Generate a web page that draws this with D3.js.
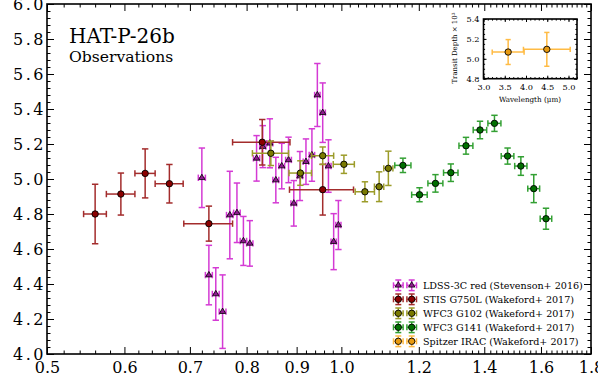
<!DOCTYPE html>
<html>
<head>
<meta charset="utf-8">
<script src="https://cdn.jsdelivr.net/npm/d3@7"></script>
<style>
body { margin: 0; background: #fff; }
svg text { font-family: "DejaVu Serif", serif; fill: #000; }
</style>
</head>
<body>
<svg width="598" height="373"></svg>
<script>
// LDSS-3C red (Stevenson+ 2016)
var ldssWave  = [0.720,0.732,0.744,0.756,0.769,0.782,0.794,0.806,0.819,0.831,0.845,0.857,0.869,0.883,0.894,0.907,0.920,0.933,0.945,0.957,0.970,0.982,0.993];
var ldssDepth = [5.007,4.451,4.343,4.242,4.794,4.807,4.646,4.632,5.118,5.185,5.204,4.994,5.074,5.109,4.861,5.017,5.099,5.137,5.480,5.379,5.074,4.642,4.737];
var ldssErr   = [0.17,0.17,0.15,0.21,0.25,0.17,0.14,0.13,0.13,0.12,0.14,0.13,0.13,0.13,0.13,0.14,0.13,0.15,0.18,0.17,0.15,0.16,0.14];
var ldssWErr  = [0.006,0.006,0.006,0.006,0.006,0.006,0.006,0.006,0.006,0.006,0.006,0.006,0.006,0.006,0.006,0.006,0.006,0.006,0.006,0.006,0.006,0.006,0.006];
// STIS G750L (Wakeford+ 2017)
var stisWave  = [0.560,0.595,0.630,0.667,0.732,0.830,0.957];
var stisDepth = [4.800,4.914,5.032,4.973,4.745,5.210,4.939];
var stisErr   = [0.17,0.12,0.14,0.11,0.10,0.13,0.145];
var stisWErr  = [0.015,0.020,0.015,0.022,0.042,0.056,0.072];
// WFC3 G102 (Wakeford+ 2017)
var g102Wave  = [0.847,0.908,0.957,1.006,1.057,1.093,1.117];
var g102Depth = [5.147,5.034,5.133,5.084,4.927,4.956,5.061];
var g102Err   = [0.07,0.07,0.05,0.052,0.057,0.085,0.098];
var g102WErr  = [0.036,0.024,0.025,0.025,0.024,0.012,0.012];
// WFC3 G141 (Wakeford+ 2017)
var g141Wave  = [1.156,1.202,1.248,1.294,1.341,1.386,1.434,1.479,1.526,1.573,1.619];
var g141Depth = [5.078,4.910,4.975,5.036,5.190,5.280,5.318,5.131,5.074,4.945,4.773];
var g141Err   = [0.041,0.040,0.050,0.050,0.048,0.050,0.046,0.046,0.053,0.080,0.060];
var g141WErr  = [0.022,0.022,0.022,0.022,0.022,0.022,0.022,0.022,0.022,0.022,0.022];
// Spitzer IRAC (Wakeford+ 2017), inset
var spitzerWave  = [3.58,4.49];
var spitzerDepth = [5.068,5.095];
var spitzerErr   = [0.125,0.17];
var spitzerWErr  = [0.375,0.55];

var xMajor = [0.5,0.6,0.7,0.8,0.9,1.0,1.2,1.4,1.6,1.8];
var yMajor = [4.0,4.2,4.4,4.6,4.8,5.0,5.2,5.4,5.6,5.8,6.0];
var insetXMajor = [3.0,3.5,4.0,4.5,5.0];
var insetYMajor = [4.8,5.0,5.2,5.4];

var series = [
  {name:"LDSS-3C red (Stevenson+ 2016)", w:ldssWave, d:ldssDepth, e:ldssErr, we:ldssWErr, bar:"#d43ad4", fill:"#8e1a8e", tri:true},
  {name:"STIS G750L (Wakeford+ 2017)", w:stisWave, d:stisDepth, e:stisErr, we:stisWErr, bar:"#a32c2c", fill:"#8b0000"},
  {name:"WFC3 G102 (Wakeford+ 2017)", w:g102Wave, d:g102Depth, e:g102Err, we:g102WErr, bar:"#9c9c2a", fill:"#7a7a00"},
  {name:"WFC3 G141 (Wakeford+ 2017)", w:g141Wave, d:g141Depth, e:g141Err, we:g141WErr, bar:"#33a033", fill:"#006f00"},
  {name:"Spitzer IRAC (Wakeford+ 2017)", w:spitzerWave, d:spitzerDepth, e:spitzerErr, we:spitzerWErr, bar:"#ffbb44", fill:"#e89a10", inset:true}
];

var svg = d3.select("svg");
var pLeft = 47, pRight = 591, pTop = 4, pBottom = 354;

var x = d3.scaleLog().domain([0.5,1.8]).range([pLeft,pRight]);
var y = d3.scaleLinear().domain([4.0,6.0]).range([pBottom,pTop]);

// minor ticks
var xMinor = d3.range(0.5, 1.801, 0.02).filter(function(v){
  return xMajor.every(function(m){ return Math.abs(m-v) > 1e-6; });
});
var yMinor = d3.range(4.0, 6.001, 0.04).filter(function(v){
  return yMajor.every(function(m){ return Math.abs(m-v) > 1e-6; });
});

function axes(g, xs, ys, xMaj, xMin, yMaj, yMin, big, small, padX, padY, x0, x1, y0, y1) {
  var fmt = d3.format(".1f");
  g.append("g").attr("class","xl").attr("transform","translate(0,"+y0+")")
   .call(d3.axisBottom(xs).tickValues(xMaj).tickSizeInner(-big).tickSizeOuter(0).tickPadding(padX).tickFormat(fmt));
  g.append("g").attr("transform","translate(0,"+y0+")")
   .call(d3.axisBottom(xs).tickValues(xMin).tickSizeInner(-small).tickSizeOuter(0).tickFormat(""));
  g.append("g").attr("transform","translate(0,"+y1+")")
   .call(d3.axisTop(xs).tickValues(xMaj).tickSizeInner(-big).tickSizeOuter(0).tickFormat(""));
  g.append("g").attr("transform","translate(0,"+y1+")")
   .call(d3.axisTop(xs).tickValues(xMin).tickSizeInner(-small).tickSizeOuter(0).tickFormat(""));
  g.append("g").attr("class","yl").attr("transform","translate("+x0+",0)")
   .call(d3.axisLeft(ys).tickValues(yMaj).tickSizeInner(-big).tickSizeOuter(0).tickPadding(padY).tickFormat(fmt));
  g.append("g").attr("transform","translate("+x0+",0)")
   .call(d3.axisLeft(ys).tickValues(yMin).tickSizeInner(-small).tickSizeOuter(0).tickFormat(""));
  g.append("g").attr("transform","translate("+x1+",0)")
   .call(d3.axisRight(ys).tickValues(yMaj).tickSizeInner(-big).tickSizeOuter(0).tickFormat(""));
  g.append("g").attr("transform","translate("+x1+",0)")
   .call(d3.axisRight(ys).tickValues(yMin).tickSizeInner(-small).tickSizeOuter(0).tickFormat(""));
  g.selectAll(".domain").remove();
  g.selectAll(".tick line").attr("stroke","#000").attr("stroke-width",1);
  g.append("rect").attr("x",x0).attr("y",y1).attr("width",x1-x0).attr("height",y0-y1)
   .attr("fill","none").attr("stroke","#000").attr("stroke-width",1.6);
}

var frame = svg.append("g");
axes(frame, x, y, xMajor, xMinor, yMajor, yMinor, 7, 3.5, 8, 1, pLeft, pRight, pBottom, pTop);
frame.selectAll("text").attr("font-size","16px").attr("font-family","DejaVu Serif");
frame.selectAll(".yl text").attr("letter-spacing","2.5px");

// error bars + markers
function drawSeries(g, s, xs, ys, cap) {
  var pts = g.selectAll(null).data(s.w.map(function(w,i){ return {w:w, d:s.d[i], e:s.e[i], we:s.we[i]}; }))
    .enter().append("g");
  var c = s.bar;
  pts.append("line").attr("x1",function(p){return xs(p.w);}).attr("x2",function(p){return xs(p.w);})
    .attr("y1",function(p){return ys(p.d+p.e);}).attr("y2",function(p){return ys(p.d-p.e);})
    .attr("stroke",c).attr("stroke-width",1.5);
  pts.append("line").attr("x1",function(p){return xs(p.w-p.we);}).attr("x2",function(p){return xs(p.w+p.we);})
    .attr("y1",function(p){return ys(p.d);}).attr("y2",function(p){return ys(p.d);})
    .attr("stroke",c).attr("stroke-width",1.5);
  [1,-1].forEach(function(sg){
    pts.append("line").attr("x1",function(p){return xs(p.w)-cap;}).attr("x2",function(p){return xs(p.w)+cap;})
      .attr("y1",function(p){return ys(p.d+sg*p.e);}).attr("y2",function(p){return ys(p.d+sg*p.e);})
      .attr("stroke",c).attr("stroke-width",1.5);
    pts.append("line").attr("y1",function(p){return ys(p.d)-cap;}).attr("y2",function(p){return ys(p.d)+cap;})
      .attr("x1",function(p){return xs(p.w+sg*p.we);}).attr("x2",function(p){return xs(p.w+sg*p.we);})
      .attr("stroke",c).attr("stroke-width",1.5);
  });
  marker(pts, s).attr("transform",function(p){return "translate("+xs(p.w)+","+ys(p.d)+")";});
}

function marker(sel, s) {
  if (s.tri) {
    return sel.append("path").attr("d", d3.symbol(d3.symbolTriangle, 17)())
      .attr("fill",s.fill).attr("stroke","#000").attr("stroke-width",0.8);
  }
  return sel.append("circle").attr("r",3.2)
    .attr("fill",s.fill).attr("stroke","#000").attr("stroke-width",0.9);
}

var plot = svg.append("g");
series.forEach(function(s){ if (!s.inset) drawSeries(plot, s, x, y, 3.2); });

// titles
svg.append("text").attr("x",69).attr("y",43).attr("font-size","20px").text("HAT-P-26b");
svg.append("text").attr("x",69).attr("y",62).attr("font-size","15.6px").text("Observations");

// inset
var ix0 = 483.5, ix1 = 577, iy1 = 19, iy0 = 78.7;
var xi = d3.scaleLinear().domain([3.0,5.2]).range([ix0,ix1]);
var yi = d3.scaleLinear().domain([4.8,5.4]).range([iy0,iy1]);
svg.append("rect").attr("x",ix0).attr("y",iy1).attr("width",ix1-ix0).attr("height",iy0-iy1).attr("fill","#fff");
var inset = svg.append("g");
axes(inset, xi, yi, insetXMajor, d3.range(3.0,5.21,0.1), insetYMajor, d3.range(4.8,5.401,0.05), 3, 1.6, 5, 4,
     ix0, ix1, iy0, iy1);
inset.selectAll("text").attr("font-size","8.2px").attr("font-family","DejaVu Serif");
drawSeries(inset, series[4], xi, yi, 2.6);
inset.append("text").attr("transform","translate(457,48) rotate(-90)").attr("text-anchor","middle")
  .attr("font-size","7px").text("Transit Depth \u00d7 10\u00b3");
inset.append("text").attr("x",530).attr("y",102).attr("text-anchor","middle")
  .attr("font-size","7.2px").text("Wavelength (\u03bcm)");

// legend
var legend = svg.append("g");
series.forEach(function(s, i){
  var ly = 285.3 + i*14;
  [398.3, 411.7].forEach(function(lx){
    var m = legend.append("g").attr("transform","translate("+lx+","+ly+")");
    [[0,-5.3,0,5.3],[-4.8,0,4.8,0],[-3,-5.3,3,-5.3],[-3,5.3,3,5.3],[-4.8,-3,-4.8,3],[4.8,-3,4.8,3]].forEach(function(l){
      m.append("line").attr("x1",l[0]).attr("y1",l[1]).attr("x2",l[2]).attr("y2",l[3])
        .attr("stroke",s.bar).attr("stroke-width",1.5);
    });
    marker(m, s);
  });
  legend.append("text").attr("x",423).attr("y",ly+3.6).attr("font-size","9.6px").text(s.name);
});
</script>
</body>
</html>
